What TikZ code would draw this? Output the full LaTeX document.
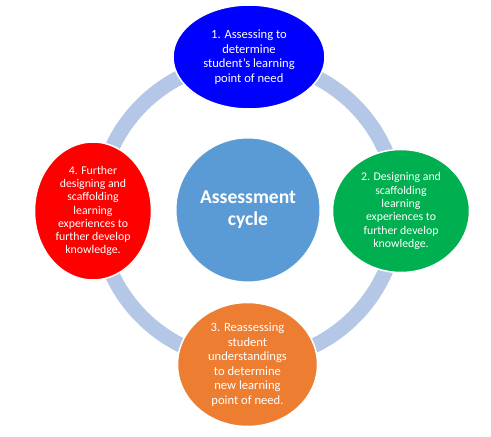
\documentclass[tikz,border=0pt]{standalone}
\usepackage{fontspec}
\setmainfont{Carlito}
\usetikzlibrary{shapes.geometric}
\definecolor{ringblue}{HTML}{B4C7E7}
\definecolor{cblue}{HTML}{0000FF}
\definecolor{cgreen}{HTML}{00B050}
\definecolor{corange}{HTML}{ED7D31}
\definecolor{cred}{HTML}{FF0000}
\definecolor{ccenter}{HTML}{5B9BD5}
\tikzset{
  stage/.style={ellipse, draw=white, line width=1.5pt, inner sep=0pt, text=white, align=center,
    font=\fontsize{12.6}{14.5}\selectfont},
  stagesmall/.style={stage, font=\fontsize{11.8}{13.3}\selectfont},
  hub/.style={circle, fill=ccenter, draw=white, line width=1pt, minimum size=144pt, inner sep=0pt,
    text=white, align=center, font=\fontsize{19.6}{22}\selectfont\bfseries}
}
\begin{document}
\begin{tikzpicture}[x=1pt,y=-1pt]
\useasboundingbox (0,0) rectangle (491,437);
\draw[ringblue, line width=15pt] (248,211) circle[radius=150pt];
\node[hub] (c) at (248,210) {Assessment\\cycle};
\node[stage, fill=cblue, minimum width=152pt, minimum height=104pt] (s1) at (249,57)
  {1. Assessing to\\determine\\student's learning\\point of need};
\node[stagesmall, fill=cgreen, minimum width=137pt, minimum height=123pt] (s2) at (401,211)
  {2. Designing and\\scaffolding\\learning\\experiences to\\further develop\\knowledge.};
\node[stage, fill=corange, minimum width=140pt, minimum height=124pt] (s3) at (247.5,364.5)
  {3. Reassessing\\student\\understandings\\to determine\\new learning\\point of need.};
\node[stagesmall, fill=cred, minimum width=117pt, minimum height=138pt] (s4) at (93,211)
  {4. Further\\designing and\\scaffolding\\learning\\experiences to\\further develop\\knowledge.};
\end{tikzpicture}
\end{document}
